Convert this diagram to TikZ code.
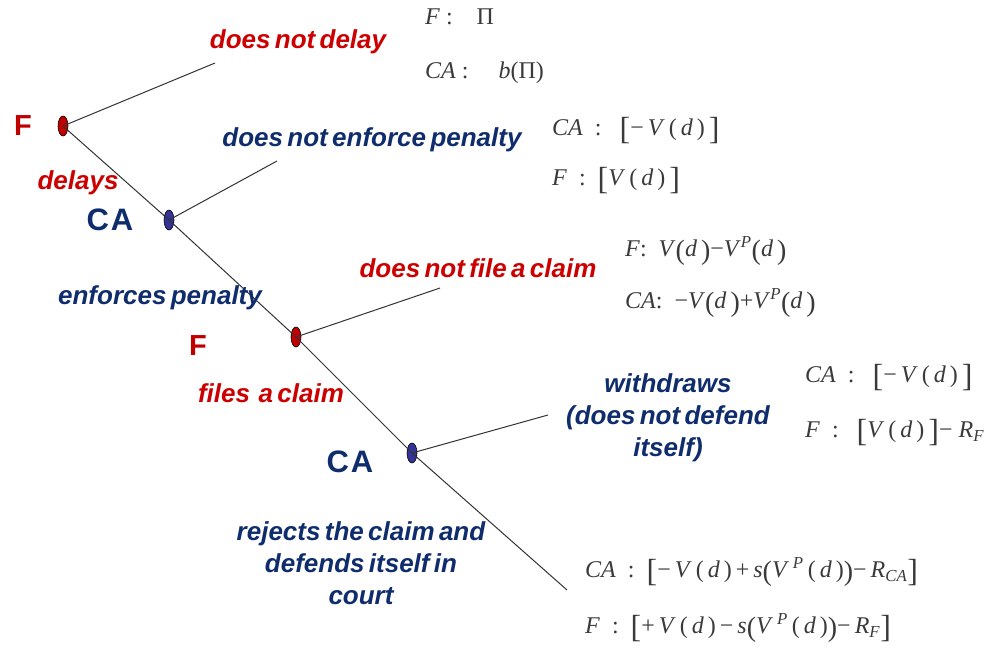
\documentclass[tikz,border=0pt]{standalone}
\usepackage{fontspec}
\setmainfont{Liberation Sans}
\newfontfamily\seriffam{Liberation Serif}
\newfontfamily\actfam[WordSpace=0.6]{Liberation Sans}
\usetikzlibrary{shapes.geometric}
\definecolor{dred}{HTML}{C00000}
\definecolor{lred}{HTML}{CC0000}
\definecolor{navy}{HTML}{0F2C6C}
\definecolor{nodeblue}{HTML}{333399}
\definecolor{mgray}{HTML}{3A3A3A}
\newcommand\I[1]{\textit{#1}}
\newcommand\lbk{\raisebox{-4pt}{\fontsize{32}{32}\selectfont[}}
\newcommand\rbk{\raisebox{-4pt}{\fontsize{32}{32}\selectfont]}}
\newcommand\lpr{\raisebox{-2.5pt}{\fontsize{28}{28}\selectfont(}}
\newcommand\rpr{\raisebox{-2.5pt}{\fontsize{28}{28}\selectfont)}}
\newcommand\Sup[1]{\textsuperscript{\I{#1}}}
\newcommand\Sub[1]{\textsubscript{\I{#1}}}
\begin{document}
\begin{tikzpicture}[x=1pt,y=-1pt,
  dec/.style={ellipse, draw=black, line width=0.6pt, minimum width=10pt, minimum height=20pt, inner sep=0pt},
  branch/.style={draw=black!80, line width=1pt},
  act/.style={font=\actfam\fontsize{26}{32}\selectfont\bfseries\itshape, inner sep=0pt},
  pl/.style={font=\fontsize{29}{29}\selectfont\bfseries, inner sep=0pt},
  plca/.style={font=\fontsize{31}{31}\selectfont\bfseries, inner sep=0pt},
  pay/.style={font=\seriffam\fontsize{24}{26}\selectfont, text=mgray, anchor=west, inner sep=0pt}]
\useasboundingbox (0,0) rectangle (1003,649);
% decision nodes
\node[dec, fill=dred] (f1) at (63,126) {};
\node[dec, fill=nodeblue] (ca1) at (169,220) {};
\node[dec, fill=dred] (f2) at (296,337) {};
\node[dec, fill=nodeblue] (ca2) at (412,453) {};
\coordinate (e1) at (215,63);
\coordinate (e2) at (277,161);
\coordinate (e3) at (440,288);
\coordinate (e4) at (548,415);
\coordinate (e5) at (567,590);
% branches
\draw[branch] (f1.center) -- (e1);
\draw[branch] (ca1.center) -- (e2);
\draw[branch] (f2.center) -- (e3);
\draw[branch] (ca2.center) -- (e4);
\draw[branch] (f1.center) -- (ca1.center) -- (f2.center) -- (ca2.center) -- (e5);
% players
\node[pl, text=dred] (pF1) at (23,126) {F};
\node[plca, text=navy] (pCA1) at (110,220) {C\hspace{2pt}A};
\node[pl, text=dred] (pF2) at (198,346) {F};
\node[plca, text=navy] (pCA2) at (350,462) {C\hspace{2pt}A};
% actions
\node[act, text=lred] (a1) at (298,42) {does not delay};
\node[act, text=lred] (a2) at (78,183) {delays};
\node[act, text=navy] (a3) at (372,140) {does not enforce penalty};
\node[act, text=navy] (a4) at (160,298) {enforces penalty};
\node[act, text=lred] (a5) at (478,268) {does not file a claim};
\node[act, text=lred] (a6) at (271,393) {files\ \ a claim};
\node[act, text=navy, align=center] (a7) at (668,418) {withdraws\\(does not defend\\itself)};
\node[act, text=navy, align=center] (a8) at (361,563) {rejects the claim and\\defends itself in\\court};
% payoffs
\node[pay] (p1) at (425,17) {\I{F} :\ \ \ \ Π};
\node[pay] (p2) at (425,73) {\I{CA} :\ \ \ \ \ \I{b}(Π)};
\node[pay] (p3) at (552,131) {\I{CA}\ \ :\ \ \ \lbk−\,\I{V}\,(\,\I{d}\,)\,\rbk};
\node[pay] (p4) at (552,181) {\I{F}\ \ :\ \ \lbk\I{V}\,(\,\I{d}\,)\,\rbk};
\node[pay] (p5) at (625,251) {\I{F}:\ \ \I{V}\lpr\I{d}\,\rpr−\I{V}\Sup{P}\lpr\I{d}\,\rpr};
\node[pay] (p6) at (625,303) {\I{CA}:\ \ −\I{V}\lpr\I{d}\,\rpr+\I{V}\Sup{P}\lpr\I{d}\,\rpr};
\node[pay] (p7) at (805,378) {\I{CA}\ \ :\ \ \ \lbk−\,\I{V}\,(\,\I{d}\,)\,\rbk};
\node[pay] (p8) at (805,433) {\I{F}\ \ :\ \ \ \lbk\I{V}\,(\,\I{d}\,)\,\rbk−\ \I{R}\Sub{F}};
\node[pay] (p9) at (585,572) {\I{CA}\ \ :\ \ \lbk−\,\I{V}\,(\,\I{d}\,)\,+\,\I{s}\lpr\I{V}\,\Sup{P}\,(\,\I{d}\,)\rpr−\,\I{R}\Sub{CA}\rbk};
\node[pay] (p10) at (585,628) {\I{F}\ \ :\ \ \lbk+\,\I{V}\,(\,\I{d}\,)\,−\,\I{s}\lpr\I{V}\,\Sup{P}\,(\,\I{d}\,)\rpr−\,\I{R}\Sub{F}\rbk};
\end{tikzpicture}
\end{document}
